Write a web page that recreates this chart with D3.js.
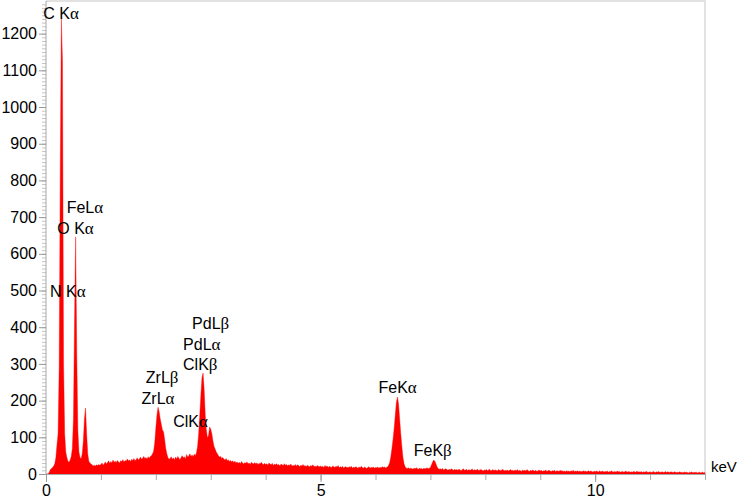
<!DOCTYPE html>
<html>
<head>
<meta charset="utf-8">
<script src="https://cdn.jsdelivr.net/npm/d3@7"></script>
<style>
  body { margin: 0; background: #fff; }
  svg text { font-family: "Liberation Sans", Arial, sans-serif; }
</style>
</head>
<body>
<div id="chart" style="width:738px;height:499px"></div>
<script>
// EDS spectrum, counts per 0.02 keV channel, 0.00 .. 12.00 keV
const channelWidth = 0.02;
const counts = [
  0,0,0,5,12,15,18,22,28,45,80,110,290,830,1240,1125,300,110,60,45,35,32,38,48,70,
  150,420,646,330,120,60,45,42,55,90,150,180,110,55,35,30,27,25,22,24,22,25,23,26,24,
  26,30,24,28,33,27,31,36,29,34,30,38,32,35,31,37,33,30,36,34,39,33,37,35,41,
  36,38,34,40,37,42,36,39,44,38,41,46,40,43,48,42,45,40,47,43,48,50,55,62,85,
  125,160,182,170,150,135,120,115,95,70,55,45,40,42,47,40,44,38,46,41,48,43,39,45,50,
  44,47,41,53,46,49,55,48,52,47,54,50,58,75,110,160,215,262,275,230,160,120,98,105,128,
  122,110,90,75,68,60,55,50,46,48,42,45,40,38,42,36,39,34,37,33,36,31,35,30,33,
  29,32,28,34,30,27,31,29,33,28,30,26,32,29,27,31,28,30,26,29,27,32,28,25,29,
  26,28,24,30,27,25,29,23,27,25,28,24,26,22,27,25,23,28,24,26,22,25,23,27,21,
  24,22,26,21,25,23,20,24,22,26,21,23,20,24,22,19,23,21,25,20,22,19,23,21,20,
  22,19,21,18,23,20,22,18,21,19,17,22,20,18,21,19,23,17,20,18,21,16,19,20,18,
  17,20,18,21,16,19,17,20,18,16,19,17,21,18,16,19,17,15,18,20,16,18,17,19,16,
  18,17,19,16,18,17,20,18,19,17,18,20,24,32,48,70,95,125,160,195,210,190,150,110,75,
  45,28,20,16,15,17,14,16,15,13,16,14,17,15,13,16,14,15,13,16,14,15,17,14,16,
  18,25,33,38,35,28,20,15,13,14,12,15,11,13,14,12,10,13,11,14,12,10,13,11,12,
  10,13,11,9,12,14,10,11,13,9,12,10,11,14,9,12,10,11,13,9,11,12,10,8,11,
  10,12,9,11,13,8,10,12,9,11,10,8,12,10,9,11,13,8,10,9,11,8,10,12,9,
  10,8,11,9,12,8,10,9,7,11,9,10,8,12,9,7,10,8,11,9,8,10,7,9,11,
  8,10,7,9,8,11,7,9,10,8,7,9,8,10,6,9,8,7,10,8,9,7,8,6,9,
  7,8,6,9,7,10,6,8,7,9,6,8,7,6,9,7,8,6,7,9,6,8,7,5,8,
  6,8,7,5,9,6,7,8,5,7,6,8,5,7,6,9,5,6,7,5,8,6,7,5,6,
  7,5,6,8,5,6,7,4,6,5,7,6,4,8,5,6,5,7,4,6,5,6,7,4,5,
  6,4,5,7,5,4,6,5,7,4,5,6,4,5,7,4,6,5,4,6,5,4,6,5,4,
  5,4,6,4,5,3,6,4,5,4,3,5,4,6,3,5,4,5,3,4,5,3,4,5,3,
  4
];

const xMajorTicks = [0, 5, 10];
const xMinorTicks = d3.range(0, 13, 1);
const yMajorTicks = d3.range(0, 1300, 100);
const yMinorTicks = d3.range(0, 1290, 10);

// peak labels: [main text, greek letter]
const peakNames = [
  ["C K", "α"], ["FeL", "α"], ["O K", "α"], ["N K", "α"],
  ["ZrL", "β"], ["ZrL", "α"], ["ClK", "α"], ["ClK", "β"],
  ["PdL", "α"], ["PdL", "β"], ["FeK", "α"], ["FeK", "β"]
];
// where each label starts, in keV / counts
const peakAnchors = [
  [-0.05, 1240], [0.376, 711], [0.205, 655], [0.073, 481],
  [1.818, 248], [1.74, 191], [2.315, 129], [2.496, 283],
  [2.496, 338], [2.66, 396], [6.055, 220], [6.696, 48]
];

const width = 738, height = 499;
const x = d3.scaleLinear().domain([0, 12]).range([46, 705]);
const y = d3.scaleLinear().domain([0, 1290]).range([474, 0.6]);

const svg = d3.select("#chart").append("svg")
  .attr("width", width).attr("height", height);

// frame
svg.append("line").attr("x1", x(0)).attr("x2", x(12)).attr("y1", 1).attr("y2", 1)
  .attr("stroke", "#e2e2e2").attr("stroke-width", 2);
svg.append("line").attr("x1", x(12)).attr("x2", x(12)).attr("y1", 0).attr("y2", y(0))
  .attr("stroke", "#e2e2e2").attr("stroke-width", 2);

const area = d3.area()
  .x((d, i) => x(i * channelWidth))
  .y0(y(0))
  .y1(d => y(d));

svg.append("path")
  .datum(counts)
  .attr("fill", "#ff0000")
  .attr("stroke", "#ff0000")
  .attr("stroke-width", 0.4)
  .attr("d", area);

// y axis
const yMinor = svg.append("g").attr("transform", `translate(${x(0)},0)`)
  .call(d3.axisLeft(y).tickValues(yMinorTicks).tickSize(4).tickFormat(""));
yMinor.select(".domain").remove();
yMinor.selectAll("line").attr("stroke", "#c4c4c4");

const yMajor = svg.append("g").attr("transform", `translate(${x(0)},0)`)
  .call(d3.axisLeft(y).tickValues(yMajorTicks).tickFormat(d3.format("d"))
    .tickSize(7).tickPadding(2).tickSizeOuter(0));
yMajor.select(".domain").attr("stroke", "#a8a8a8").attr("d", `M0,${y(0)}V1`);
yMajor.selectAll("line").attr("stroke", "#999");
yMajor.selectAll("text").attr("font-size", 16).attr("fill", "#000")
  .attr("font-family", "Liberation Sans, Arial, sans-serif");

// x axis
const xMinor = svg.append("g").attr("transform", `translate(0,${y(0)})`)
  .call(d3.axisBottom(x).tickValues(xMinorTicks).tickSize(6).tickFormat(""));
xMinor.select(".domain").remove();
xMinor.selectAll("line").attr("stroke", "#aaa");

const xMajor = svg.append("g").attr("transform", `translate(0,${y(0)})`)
  .call(d3.axisBottom(x).tickValues(xMajorTicks).tickFormat(d3.format("d"))
    .tickSize(8).tickPadding(3).tickSizeOuter(0));
xMajor.select(".domain").attr("stroke", "#a8a8a8");
xMajor.selectAll("line").attr("stroke", "#999");
xMajor.selectAll("text").attr("font-size", 16).attr("fill", "#000")
  .attr("font-family", "Liberation Sans, Arial, sans-serif");

svg.append("text").attr("x", 711).attr("y", 471.5)
  .attr("font-size", 15).text("keV");

// peak labels
const labels = svg.append("g").attr("font-size", 16).attr("fill", "#000");
peakNames.forEach((p, i) => {
  const t = labels.append("text")
    .attr("x", x(peakAnchors[i][0]))
    .attr("y", y(peakAnchors[i][1]));
  t.append("tspan").text(p[0]);
  t.append("tspan").attr("font-family", "Liberation Serif, serif").attr("font-size", 17).text(p[1]);
});
</script>
</body>
</html>
